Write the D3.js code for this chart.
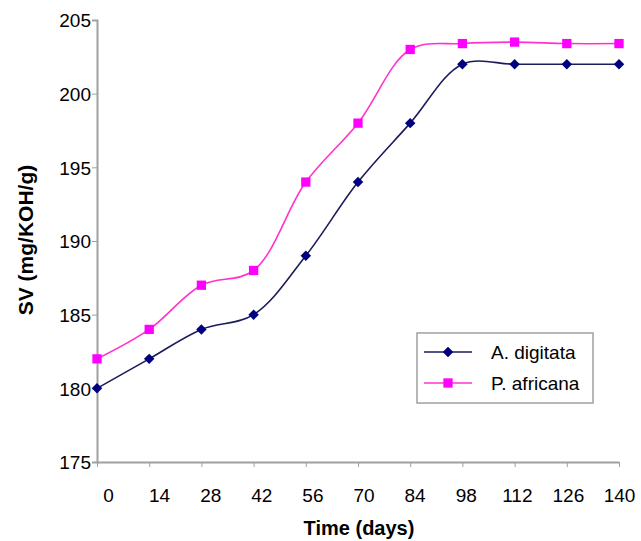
<!DOCTYPE html>
<html>
<head>
<meta charset="utf-8">
<script src="https://cdn.jsdelivr.net/npm/d3@7"></script>
<style>
  body { margin: 0; background: #fff; }
  svg text { font-family: "Liberation Sans", Arial, sans-serif; }
</style>
</head>
<body>
<script>
    // values
    const days = [0, 14, 28, 42, 56, 70, 84, 98, 112, 126, 140];
    const digitata = [180, 182, 184, 185, 189, 194, 198, 202, 202, 202, 202];
    const africana = [182, 184, 187, 188, 194, 198, 203, 203.4, 203.5, 203.4, 203.4];
    const yTicks = [175, 180, 185, 190, 195, 200, 205];
    const seriesNames = ["A. digitata", "P. africana"];

    const width = 641, height = 541;
    const margin = {top: 20, right: 22, bottom: 79, left: 97};

    const svg = d3.select("body").append("svg")
        .attr("width", width)
        .attr("height", height);

    const x = d3.scalePoint()
        .domain(days)
        .range([margin.left, width - margin.right]);

    const y = d3.scaleLinear()
        .domain([175, 205])
        .range([height - margin.bottom, margin.top]);

    // y axis
    const yAxis = svg.append("g")
        .attr("transform", `translate(${margin.left},0)`)
        .call(d3.axisLeft(y).tickValues(yTicks).tickSize(5).tickPadding(1));
    yAxis.select(".domain").attr("stroke", "#a0a0a0").attr("stroke-width", 2);
    yAxis.selectAll(".tick line").attr("stroke", "#a0a0a0");
    yAxis.selectAll(".tick text")
        .attr("font-size", 19)
        .attr("fill", "#000")
        .attr("dy", "0.36em");

    // x axis
    const xAxis = svg.append("g")
        .attr("transform", `translate(0,${height - margin.bottom})`)
        .call(d3.axisBottom(x).tickSize(5).tickSizeOuter(0).tickPadding(22));
    xAxis.select(".domain").attr("stroke", "#a0a0a0").attr("stroke-width", 2);
    xAxis.selectAll(".tick line").attr("stroke", "#a0a0a0");
    xAxis.selectAll(".tick text")
        .attr("font-size", 19)
        .attr("fill", "#000")
        .attr("dx", (d, i) => 11 * (1 - i / (days.length - 1)));

    // axis titles
    svg.append("text")
        .attr("x", 359)
        .attr("y", 535)
        .attr("text-anchor", "middle")
        .attr("font-size", 20)
        .attr("font-weight", "bold")
        .text("Time (days)");

    svg.append("text")
        .attr("transform", "translate(33,240) rotate(-90)")
        .attr("text-anchor", "middle")
        .attr("font-size", 21)
        .attr("font-weight", "bold")
        .text("SV (mg/KOH/g)");

    const line = d3.line()
        .x((d, i) => x(days[i]))
        .y(d => y(d))
        .curve(d3.curveCatmullRom.alpha(0.5));

    const diamond = d3.symbol().type(d3.symbolDiamond2).size(70);
    const square = d3.symbol().type(d3.symbolSquare2).size(110);

    // P. africana
    svg.append("path")
        .datum(africana)
        .attr("fill", "none")
        .attr("stroke", "#ff33cc")
        .attr("stroke-width", 1.6)
        .attr("d", line);

    svg.append("g").selectAll("path")
        .data(africana)
        .join("path")
        .attr("transform", (d, i) => `translate(${x(days[i])},${y(d)})`)
        .attr("d", square)
        .attr("fill", "#ff00ff");

    // A. digitata
    svg.append("path")
        .datum(digitata)
        .attr("fill", "none")
        .attr("stroke", "#1c1c5c")
        .attr("stroke-width", 1.6)
        .attr("d", line);

    svg.append("g").selectAll("path")
        .data(digitata)
        .join("path")
        .attr("transform", (d, i) => `translate(${x(days[i])},${y(d)})`)
        .attr("d", diamond)
        .attr("fill", "#000080");

    // legend
    const legend = svg.append("g").attr("transform", "translate(417,333)");
    legend.append("rect")
        .attr("width", 176)
        .attr("height", 70)
        .attr("fill", "#fff")
        .attr("stroke", "#a0a0a0")
        .attr("stroke-width", 1.5);

    const items = [
        {name: seriesNames[0], stroke: "#1c1c5c", fill: "#000080", sym: diamond},
        {name: seriesNames[1], stroke: "#ff33cc", fill: "#ff00ff", sym: square}
    ];
    items.forEach(function(it, i) {
        const gy = 19 + i * 31;
        legend.append("line")
            .attr("x1", 7).attr("x2", 55)
            .attr("y1", gy).attr("y2", gy)
            .attr("stroke", it.stroke)
            .attr("stroke-width", 1.6);
        legend.append("path")
            .attr("transform", `translate(31,${gy})`)
            .attr("d", it.sym)
            .attr("fill", it.fill);
        legend.append("text")
            .attr("x", 74)
            .attr("y", gy + 7)
            .attr("font-size", 19)
            .attr("fill", "#000")
            .text(it.name);
    });
</script>
</body>
</html>
